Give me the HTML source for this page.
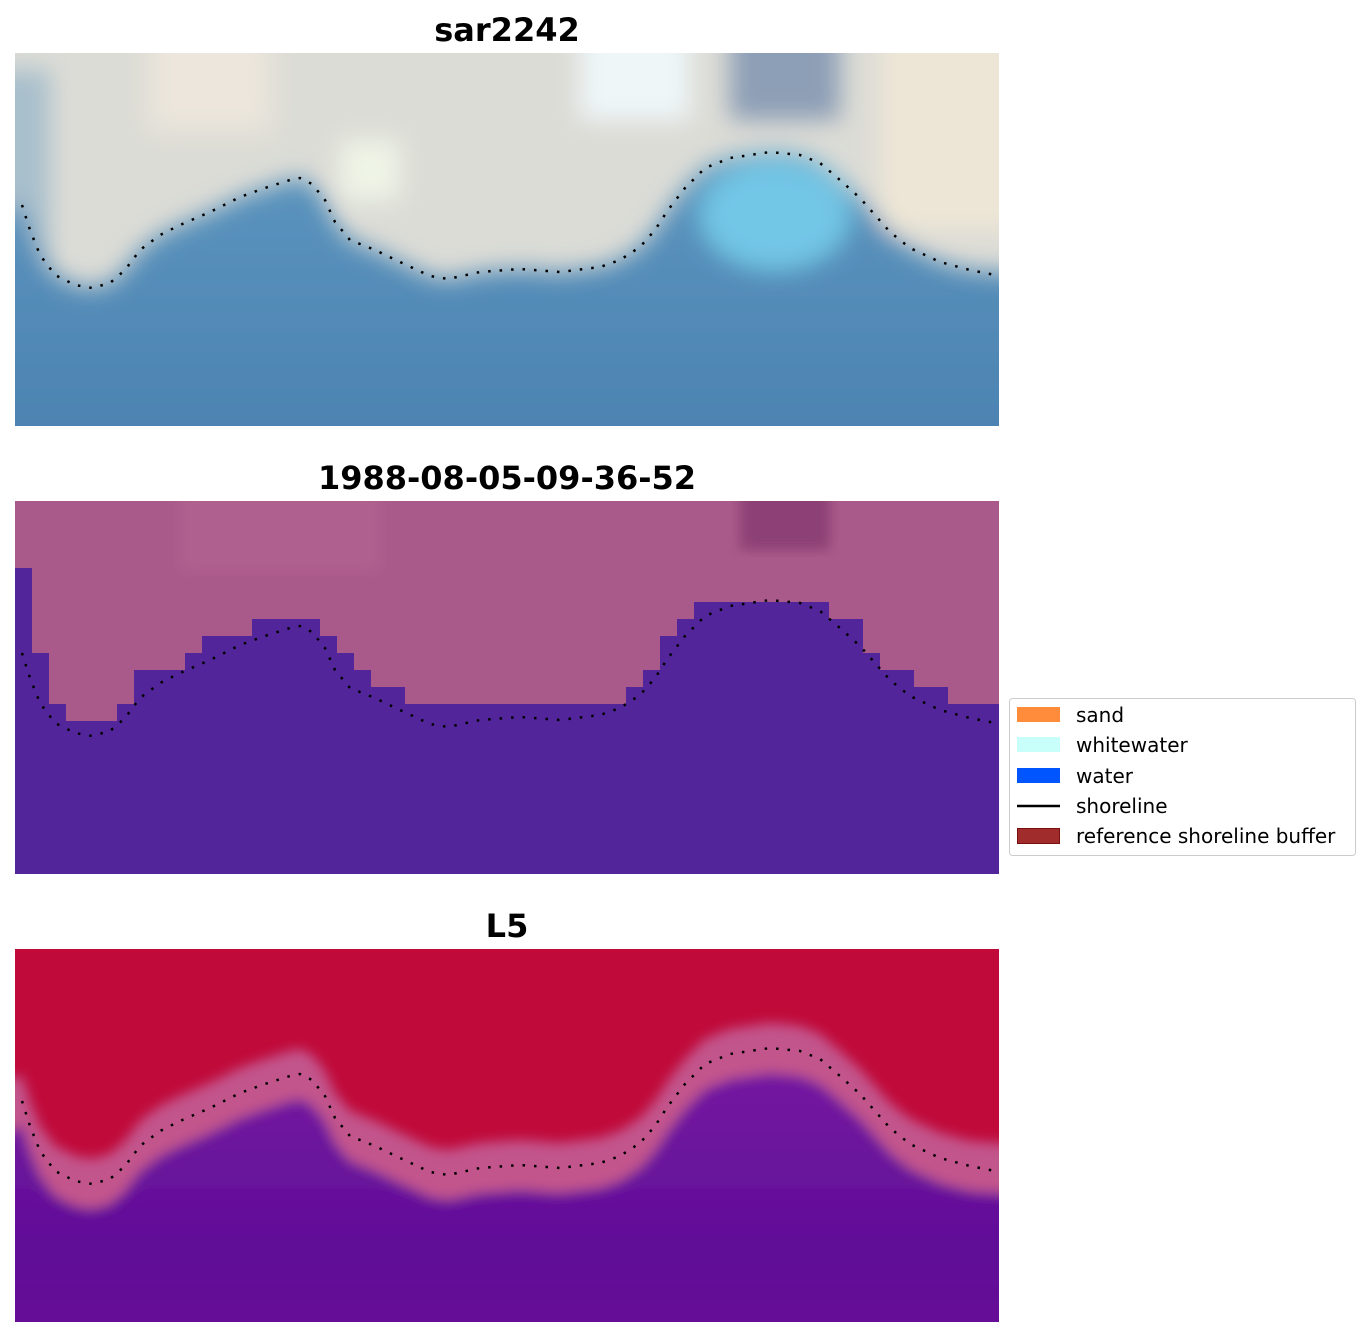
<!DOCTYPE html>
<html><head><meta charset="utf-8"><style>
body{margin:0;background:#fff;width:1370px;height:1337px;overflow:hidden;font-family:"Liberation Sans","DejaVu Sans",sans-serif}
</style></head><body>
<svg width="1370" height="1337" xmlns="http://www.w3.org/2000/svg" font-family="DejaVu Sans, Liberation Sans, sans-serif">
<defs>
<filter id="b" x="-10%" y="-10%" width="120%" height="120%"><feGaussianBlur stdDeviation="12"/></filter>
<filter id="s" x="-10%" y="-10%" width="120%" height="120%"><feGaussianBlur stdDeviation="6"/></filter>
<clipPath id="c1"><rect x="15" y="53" width="984" height="373"/></clipPath>
<clipPath id="c2"><rect x="15" y="501" width="984" height="373"/></clipPath>
<clipPath id="c3"><rect x="15" y="949" width="984" height="373"/></clipPath>
<linearGradient id="g1" x1="0" y1="0" x2="0" y2="1"><stop offset="0" stop-color="#5b95be"/><stop offset="1" stop-color="#4a80b0"/></linearGradient>
<linearGradient id="g3" x1="0" y1="0" x2="0" y2="1"><stop offset="0" stop-color="#7418a0"/><stop offset="0.6" stop-color="#600e98"/><stop offset="1" stop-color="#6a1296"/></linearGradient>
<polyline id="sh" points="22,205 30,230 40,255 55,275 75,285 92,288 110,283 125,270 140,250 160,235 180,225 210,212 240,197 265,188 290,180 300,178 312,184 325,200 335,222 350,240 375,250 400,262 430,276 448,279 480,272 520,269 560,272 600,267 620,260 640,247 655,230 668,210 685,188 705,168 730,158 770,152 800,155 820,163 840,180 860,198 875,215 890,232 910,248 940,262 970,270 995,275" fill="none" stroke="#000" stroke-width="2.5" stroke-dasharray="2.5 9"/>
</defs>
<text x="507" y="41" text-anchor="middle" font-size="32" font-weight="bold">sar2242</text>
<text x="507" y="489" text-anchor="middle" font-size="32" font-weight="bold">1988-08-05-09-36-52</text>
<text x="507" y="937" text-anchor="middle" font-size="32" font-weight="bold">L5</text>

<g clip-path="url(#c1)">
<rect x="15" y="53" width="984" height="373" fill="#dcdcd6"/>
<g filter="url(#b)">
<rect x="150" y="30" width="120" height="100" fill="#ece6dc"/>
<rect x="880" y="30" width="160" height="200" fill="#ede6d6"/>
<rect x="580" y="30" width="110" height="90" fill="#eef6f8"/>
<rect x="730" y="20" width="110" height="100" fill="#8d9fb6"/>
<rect x="340" y="140" width="60" height="60" fill="#eef4e6"/>
<rect x="-20" y="70" width="70" height="200" fill="#a8bfcc"/>
<polygon points="-40,220 22,205 30,230 40,255 55,275 75,285 92,288 110,283 125,270 140,250 160,235 180,225 210,212 240,197 265,188 290,180 300,178 312,184 325,200 335,222 350,240 375,250 400,262 430,276 448,279 480,272 520,269 560,272 600,267 620,260 640,247 655,230 668,210 685,188 705,168 730,158 770,152 800,155 820,163 840,180 860,198 875,215 890,232 910,248 940,262 970,270 1040,275 1040,470 -40,470" fill="url(#g1)"/>
<ellipse cx="775" cy="215" rx="75" ry="55" fill="#72c6e6"/>
</g>
<use href="#sh"/>
</g>

<g clip-path="url(#c2)">
<rect x="15" y="501" width="984" height="373" fill="#aa5a8a"/>
<rect x="740" y="480" width="90" height="70" fill="#8c3f74" filter="url(#s)"/>
<rect x="180" y="490" width="200" height="80" fill="#b0608e" filter="url(#s)"/>
<polygon points="15,568 32,568 32,653 49,653 49,704 66,704 66,721 117,721 117,704 134,704 134,670 185,670 185,653 202,653 202,636 252,636 252,619 320,619 320,636 337,636 337,653 354,653 354,670 371,670 371,687 405,687 405,704 626,704 626,687 643,687 643,670 660,670 660,636 677,636 677,619 694,619 694,602 829,602 829,619 863,619 863,653 880,653 880,670 914,670 914,687 948,687 948,704 999,704 999,874 15,874" fill="#53259a"/>
<use href="#sh" transform="translate(0,448)"/>
</g>

<g clip-path="url(#c3)">
<rect x="15" y="949" width="984" height="373" fill="#c00a3a"/>
<g filter="url(#s)" transform="translate(0,896)">
<polygon points="-40,190 22,180 30,205 40,230 55,250 75,260 92,263 110,258 125,245 140,225 160,210 180,200 210,187 240,172 265,163 290,155 300,153 312,159 325,175 335,197 350,215 375,225 400,237 430,251 448,254 480,247 520,244 560,247 600,242 620,235 640,222 655,205 668,185 685,163 705,143 730,133 770,127 800,130 820,138 840,155 860,173 875,190 890,207 910,223 940,237 970,245 1040,250 1040,470 -40,470" fill="#c2548c"/>
<polygon points="-40,250 22,230 30,255 40,280 55,300 75,310 92,313 110,308 125,295 140,275 160,260 180,250 210,237 240,222 265,213 290,205 300,203 312,209 325,225 335,247 350,265 375,275 400,287 430,301 448,304 480,297 520,294 560,297 600,292 620,285 640,272 655,255 668,235 685,213 705,193 730,183 770,177 800,180 820,188 840,205 860,223 875,240 890,257 910,273 940,287 970,295 1040,300 1040,470 -40,470" fill="url(#g3)"/>
</g>
<use href="#sh" transform="translate(0,896)"/>
</g>

<rect x="1009.5" y="698.5" width="346" height="157" rx="3" fill="#fff" stroke="#ccc"/>
<rect x="1017" y="707" width="43" height="15" fill="#ff8c3a"/>
<rect x="1017" y="737" width="43" height="15" fill="#c8fffa"/>
<rect x="1017" y="768" width="43" height="15" fill="#0055ff"/>
<line x1="1017" y1="806" x2="1060" y2="806" stroke="#000" stroke-width="2.5"/>
<rect x="1017.5" y="828.5" width="42" height="15" fill="#a02c2c" stroke="#7a1010"/>
<g font-size="20" fill="#000">
<text x="1076" y="722">sand</text>
<text x="1076" y="752">whitewater</text>
<text x="1076" y="783">water</text>
<text x="1076" y="813">shoreline</text>
<text x="1076" y="843">reference shoreline buffer</text>
</g>
</svg>
</body></html>
